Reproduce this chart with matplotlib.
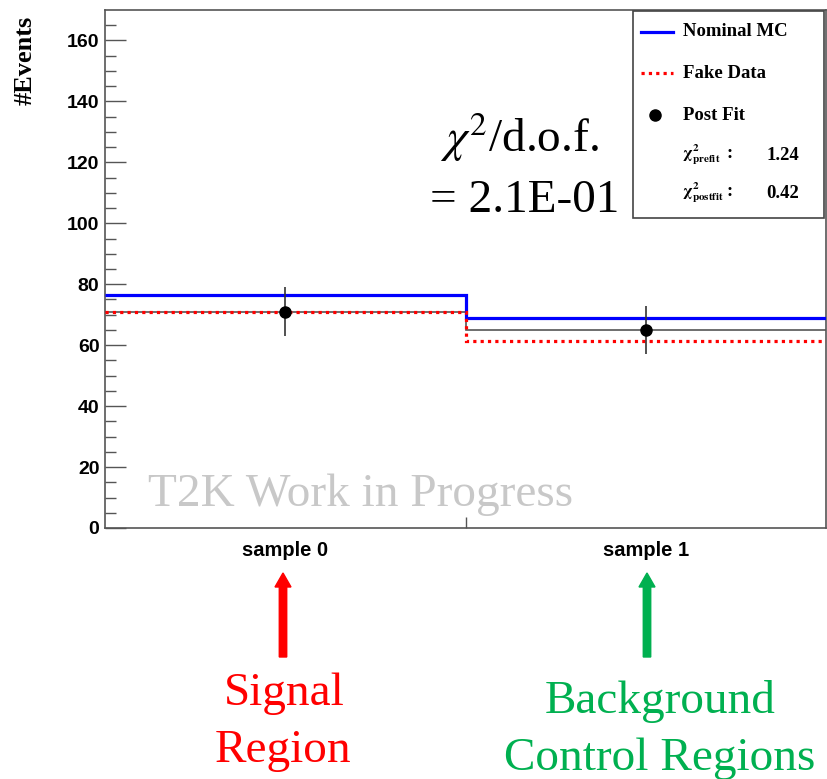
import numpy as np
import matplotlib
matplotlib.use("Agg")
import matplotlib.pyplot as plt
from matplotlib.patches import Rectangle
from matplotlib.lines import Line2D

plt.rcParams['mathtext.fontset'] = 'stix'

# data
samples = ["sample 0", "sample 1"]
edges = np.array([0, 1, 2])
nominal_mc = np.array([76.5, 69.0])
fake_data = np.array([71.0, 61.5])
post_fit = np.array([71.0, 65.0])
post_fit_err = np.array([8.0, 8.0])
chi2_prefit = 1.24
chi2_postfit = 0.42
chi2_dof = 2.1E-01

W, H = 827, 779
fig = plt.figure(figsize=(W / 100, H / 100), dpi=100)

def fx(px):
    return px / W

def fy(py):
    return 1 - py / H

# axes box in pixels: left 105, right 826, top 10, bottom 528
ax = fig.add_axes([fx(105), fy(528), fx(826) - fx(105), fy(10) - fy(528)])

centers = 0.5 * (edges[:-1] + edges[1:])
ax.stairs(post_fit, edges, color='#555555', lw=1.2, baseline=None, zorder=2)
ax.stairs(nominal_mc, edges, color='#0000ff', lw=2.3, baseline=None, zorder=3)
ax.stairs(fake_data, edges, color='#ff0000', lw=2.3, ls=(0, (1, 1.3)), baseline=None, zorder=4)
ax.errorbar(centers, post_fit, yerr=post_fit_err, fmt='o', color='black',
            ecolor='#333333', elinewidth=1.2, capsize=0, markersize=8, zorder=5)

ax.set_xlim(0, 2)
ax.set_ylim(0, 170)

# ROOT-like ticks
ax.set_yticks(np.arange(0, 161, 20))
ax.set_yticks(np.arange(0, 170, 5), minor=True)
ax.tick_params(axis='y', which='major', direction='in', length=15, width=1, color='#555555', pad=4)
ax.tick_params(axis='y', which='minor', direction='in', length=8, width=1, color='#555555')
for lab in ax.get_yticklabels():
    lab.set_fontfamily('Liberation Sans')
    lab.set_fontweight('bold')
    lab.set_fontsize(14)

ax.set_xticks(centers)
ax.set_xticklabels(samples, fontfamily='Liberation Sans', fontweight='bold', fontsize=14.5)
ax.set_xticks([1], minor=True)
ax.tick_params(axis='x', which='major', length=0, pad=9)
ax.tick_params(axis='x', which='minor', direction='in', length=8, width=1, color='#555555')
for s in ax.spines.values():
    s.set_color('#555555')
    s.set_linewidth(1.2)

# legend box drawn by hand (ROOT TLegend style)
def axx(px):
    return (px - 105) / (826 - 105)

def axy(py):
    return (528 - py) / (528 - 10)

ax.add_patch(Rectangle((axx(633), axy(218)), axx(824) - axx(633), axy(11) - axy(218),
                       transform=ax.transAxes, fill=False, edgecolor='#444444', lw=1.2,
                       clip_on=False, zorder=6))
ax.add_line(Line2D([axx(641), axx(673)], [axy(32), axy(32)], transform=ax.transAxes,
                   color='#0000ff', lw=2.3, zorder=7))
ax.add_line(Line2D([axx(641), axx(673)], [axy(73), axy(73)], transform=ax.transAxes,
                   color='#ff0000', lw=2.3, ls=(0, (1, 1.3)), zorder=7))
ax.add_line(Line2D([axx(655)], [axy(115)], transform=ax.transAxes, marker='o',
                   color='black', markersize=8, zorder=7))

leg_font = dict(family='Liberation Serif', fontweight='bold', fontsize=13.5,
                va='center', ha='left', transform=ax.transAxes, zorder=7)
ax.text(axx(683), axy(32), "Nominal MC", **leg_font)
ax.text(axx(683), axy(73), "Fake Data", **leg_font)
ax.text(axx(683), axy(115), "Post Fit", **leg_font)
chi_font = dict(leg_font, fontsize=11.5)
ax.text(axx(682), axy(155), r"$\mathbf{\chi^2_{prefit}}$", **chi_font)
ax.text(axx(682), axy(193), r"$\mathbf{\chi^2_{postfit}}$", **chi_font)
ax.text(axx(727), axy(153), ":", **leg_font)
ax.text(axx(727), axy(191), ":", **leg_font)
ax.text(axx(766), axy(155), f"{chi2_prefit:.2f}", **leg_font)
ax.text(axx(766), axy(193), f"{chi2_postfit:.2f}", **leg_font)

# chi2 / dof annotation
serif = 'Liberation Serif'
fig.text(fx(519), fy(152), r"$\chi^2$/d.o.f.", family=serif, fontsize=34,
         ha='center', va='baseline')
fig.text(fx(525), fy(212), "= %.1E" % chi2_dof, family=serif, fontsize=34,
         ha='center', va='baseline')

# watermark
fig.text(fx(148), fy(506), "T2K Work in Progress", family=serif, fontsize=34,
         color='#c8c8c8', ha='left', va='baseline')

# y label
fig.text(fx(25), fy(60), "#Events", family=serif, fontweight='bold', fontsize=19,
         rotation=90, ha='center', va='center')

# arrows and region labels
for x, col in [(283, '#ff0000'), (647, '#00b050')]:
    fig.add_artist(matplotlib.patches.FancyArrow(
        fx(x), fy(657), 0, fy(573) - fy(657), width=7 / H, head_width=16 / W,
        head_length=14 / H, length_includes_head=True, color=col,
        transform=fig.transFigure))

fig.text(fx(284), fy(705), "Signal", family=serif, fontsize=34, color='#ff0000',
         ha='center', va='baseline')
fig.text(fx(283), fy(762), "Region", family=serif, fontsize=34, color='#ff0000',
         ha='center', va='baseline')
fig.text(fx(660), fy(713), "Background", family=serif, fontsize=34, color='#00b050',
         ha='center', va='baseline')
fig.text(fx(660), fy(770), "Control Regions", family=serif, fontsize=34, color='#00b050',
         ha='center', va='baseline')

fig.savefig("out.png", dpi=100)
